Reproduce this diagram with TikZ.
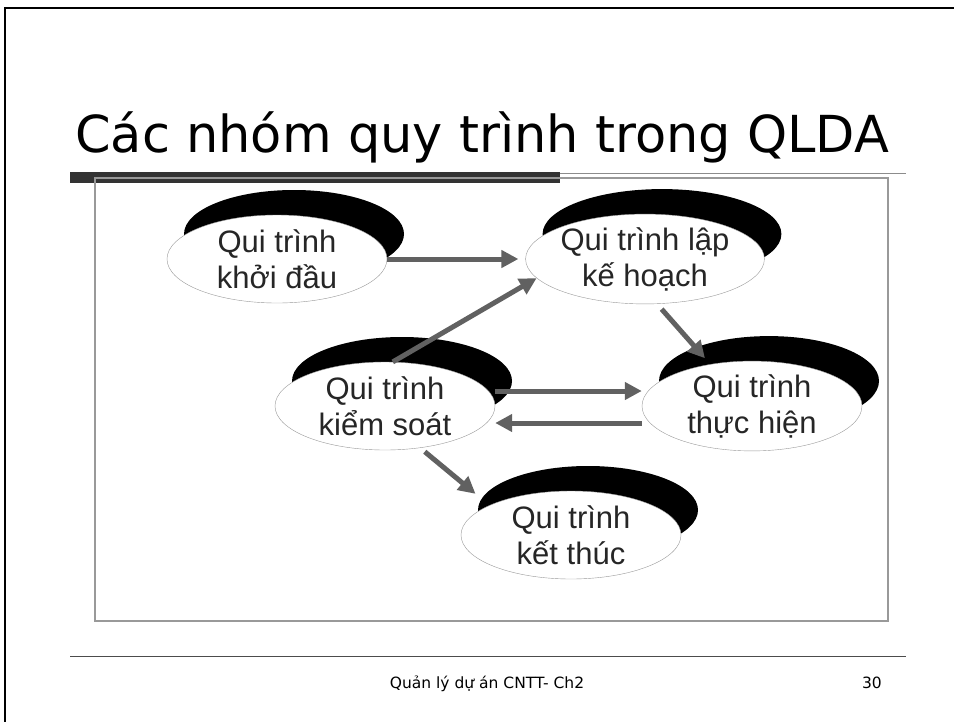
\documentclass[tikz,border=0pt]{standalone}
\usepackage{fontspec}
\setmainfont{Liberation Sans}
\newfontfamily\slidefont{DejaVu Sans}
\usetikzlibrary{arrows.meta,shapes.geometric,shadows}

\tikzset{
  buoc/.style={ellipse, draw=black!40, fill=white, minimum width=220pt,
    minimum height=88pt, inner sep=0pt, align=center, text=black!85,
    font=\fontsize{31}{36}\selectfont,
    drop shadow={shadow xshift=17pt, shadow yshift=25pt, fill=black, opacity=1}},
  muiten/.style={draw=black!62, line width=5pt, -{Triangle[length=17pt,width=17pt]}},
}

\begin{document}
\begin{tikzpicture}[x=1pt,y=-1pt]
			\useasboundingbox (0,0) rectangle (954,721);
			%%%%% START %%%%%
			
			% khung trang
			\draw[line width=2pt] (5,730) -- (5,8) -- (960,8);
			
			\node[anchor=base west, inner sep=0pt, font=\slidefont\fontsize{51}{60}\selectfont] (tieude) at (75,152) {Các nhóm quy trình trong QLDA};
			\draw[black!45, line width=1pt] (70,173) -- (906,173);
			\fill[black!80] (70,172) rectangle (560,183);
			
			\draw[black!40, line width=1.2pt] (95,178) rectangle (888,621);
			
			\node[buoc] (kd) at (277,259) {Qui trình\\khởi đầu};
			\node[buoc] (lkh) at (645,259) {Qui trình lập\\kế hoạch};
			\node[buoc] (ks) at (385,406) {Qui trình\\kiểm soát};
			\node[buoc] (th) at (752,406) {Qui trình\\thực hiện};
			\node[buoc] (kt) at (571,535) {Qui trình\\kết thúc};
			
			\draw[muiten, shorten >=7pt] (kd.east) -- (lkh.west);
			\draw[muiten] (ks.80) -- (lkh.190);
			\draw[muiten, shorten <=7pt, shorten >=8pt] (lkh.285) -- (th.135);
			\draw[muiten] ([yshift=15pt]ks.east) -- ([yshift=15pt]th.west);
			\draw[muiten] ([yshift=-17pt]th.west) -- ([yshift=-17pt]ks.east);
			\draw[muiten, shorten <=6pt, shorten >=18pt] (ks.310) -- (kt.160);
			
			\draw[black!70, line width=1pt] (70,656) -- (906,656);
			\node[anchor=base, inner sep=0pt, font=\slidefont\fontsize{15.5}{18}\selectfont] (chantrang) at (487,688) {Quản lý dự án CNTT- Ch2};
			\node[anchor=base east, inner sep=0pt, font=\slidefont\fontsize{15.5}{18}\selectfont] (sotrang) at (882,688) {30};
			
			%%%%% END %%%%%
		\end{tikzpicture}
\end{document}
